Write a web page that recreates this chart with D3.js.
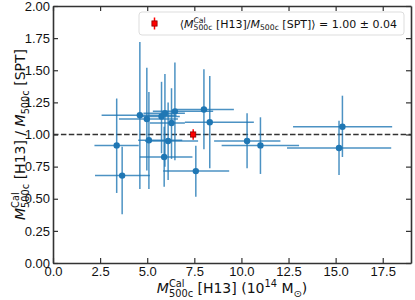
<!DOCTYPE html>
<html>
<head>
<meta charset="utf-8">
<script src="https://cdn.jsdelivr.net/npm/d3@7"></script>
<style>
  body { margin: 0; background: #fff; }
  svg { font-family: "DejaVu Sans", sans-serif; }
  svg text { white-space: pre; }
  .axis path, .axis line { stroke: #333; }
  .axis text { fill: #111; font-size: 13px; }
</style>
</head>
<body>
<div id="chart"></div>
<script>
// values
const mH13   = [4.61, 4.98, 5.76, 5.94, 6.47, 6.29, 8.01, 8.32, 5.09, 6.11, 3.38, 5.90, 3.67, 7.58, 10.30, 11.01, 15.36, 15.18];
const ratio  = [1.15, 1.12, 1.14, 1.165, 1.18, 1.09, 1.195, 1.095, 0.955, 0.95, 0.915, 0.825, 0.68, 0.715, 0.95, 0.915, 1.06, 0.895];
const mLo    = [2.58, 3.50, 4.70, 4.80, 5.30, 5.14, 6.50, 7.00, 4.52, 4.88, 2.20, 4.61, 2.23, 5.85, 8.55, 8.95, 12.74, 12.42];
const mHi    = [6.56, 6.63, 6.73, 7.00, 8.50, 7.00, 9.60, 10.66, 6.86, 7.70, 4.55, 7.40, 5.14, 9.35, 12.07, 13.06, 18.00, 17.95];
const rLo    = [0.576, 0.72, 0.854, 0.75, 0.80, 0.81, 0.885, 0.737, 0.576, 0.646, 0.545, 0.594, 0.379, 0.516, 0.737, 0.693, 0.825, 0.685];
const rHi    = [1.72, 1.52, 1.41, 1.47, 1.56, 1.36, 1.507, 1.455, 1.33, 1.25, 1.28, 1.06, 0.905, 0.913, 1.165, 1.134, 1.302, 1.107];

const meanX = 7.44;
const meanRatio = 1.00;
const meanErr = 0.04;

const xTicks = [0, 2.5, 5, 7.5, 10, 12.5, 15, 17.5];
const yTicks = [0, 0.25, 0.5, 0.75, 1, 1.25, 1.5, 1.75, 2];

const points = mH13.map((m, i) => ({ x: m, y: ratio[i], x0: mLo[i], x1: mHi[i], y0: rLo[i], y1: rHi[i] }));

const margin = { top: 6, right: 4, bottom: 37, left: 53 };
const width = 415 - margin.left - margin.right;
const height = 300 - margin.top - margin.bottom;

const svg = d3.select('#chart').append('svg')
  .attr('width', 415)
  .attr('height', 300);

const g = svg.append('g')
  .attr('transform', 'translate(' + margin.left + ',' + margin.top + ')');

const x = d3.scaleLinear().domain([0, 19]).range([0, width]);
const y = d3.scaleLinear().domain([0, 2]).range([height, 0]);

const blue = '#1f77b4';

// math-ish label: parts laid out one after another, measured in the page
function mathText(parent, parts, size) {
  const grp = parent.append('g');
  let cx = 0;
  parts.forEach(p => {
    if (p.t !== undefined) {
      const t = grp.append('text').attr('x', cx).attr('y', 0)
        .attr('font-size', size)
        .attr('font-style', p.italic ? 'italic' : null)
        .text(p.t);
      cx += t.node().getComputedTextLength();
    } else {
      let w = 0;
      if (p.sup) {
        const s = grp.append('text').attr('x', cx).attr('y', -size * 0.42)
          .attr('font-size', size * 0.7).text(p.sup);
        w = Math.max(w, s.node().getComputedTextLength());
      }
      if (p.sub) {
        const s = grp.append('text').attr('x', cx).attr('y', size * 0.26)
          .attr('font-size', size * 0.7).text(p.sub);
        w = Math.max(w, s.node().getComputedTextLength());
      }
      cx += w;
    }
  });
  grp.selectAll('text').attr('fill', '#111');
  return { grp: grp, width: cx };
}

// dashed unity line
g.append('line')
  .attr('x1', 0).attr('x2', width)
  .attr('y1', y(1)).attr('y2', y(1))
  .attr('stroke', '#333')
  .attr('stroke-width', 1.5)
  .attr('stroke-dasharray', '5.5,2.4');

// error bars
const eb = g.append('g').attr('stroke', blue).attr('stroke-width', 1.5).attr('stroke-opacity', 0.8);

eb.selectAll('line.xe')
  .data(points)
  .enter()
  .append('line')
  .attr('class', 'xe')
  .attr('x1', d => x(d.x0)).attr('x2', d => x(d.x1))
  .attr('y1', d => y(d.y)).attr('y2', d => y(d.y));

eb.selectAll('line.ye')
  .data(points)
  .enter()
  .append('line')
  .attr('class', 'ye')
  .attr('x1', d => x(d.x)).attr('x2', d => x(d.x))
  .attr('y1', d => y(d.y0)).attr('y2', d => y(d.y1));

g.selectAll('circle.pt')
  .data(points)
  .enter()
  .append('circle')
  .attr('class', 'pt')
  .attr('cx', d => x(d.x))
  .attr('cy', d => y(d.y))
  .attr('r', 3.2)
  .attr('fill', blue);

// mean ratio in red
g.append('line')
  .attr('x1', x(meanX)).attr('x2', x(meanX))
  .attr('y1', y(meanRatio - meanErr)).attr('y2', y(meanRatio + meanErr))
  .attr('stroke', 'red').attr('stroke-width', 1.5);
g.append('rect')
  .attr('x', x(meanX) - 2.6).attr('y', y(meanRatio) - 2.6)
  .attr('width', 5.2).attr('height', 5.2)
  .attr('fill', 'red').attr('stroke', '#8b0000').attr('stroke-width', 0.8);

// axes, ticks pointing in
const fmtX = d3.format('.1f');
const fmtY = d3.format('.2f');

g.append('g')
  .attr('class', 'axis')
  .attr('transform', 'translate(0,' + height + ')')
  .call(d3.axisBottom(x).tickValues(xTicks).tickFormat(fmtX).tickSizeInner(-5).tickSizeOuter(0).tickPadding(4));

g.append('g')
  .attr('class', 'axis')
  .call(d3.axisLeft(y).tickValues(yTicks).tickFormat(fmtY).tickSizeInner(-5).tickSizeOuter(0).tickPadding(3));

g.append('g')
  .attr('class', 'axis')
  .call(d3.axisTop(x).tickValues(xTicks).tickFormat('').tickSizeInner(-5).tickSizeOuter(0));

g.append('g')
  .attr('class', 'axis')
  .attr('transform', 'translate(' + width + ',0)')
  .call(d3.axisRight(y).tickValues(yTicks).tickFormat('').tickSizeInner(-5).tickSizeOuter(0));

g.selectAll('.axis path').attr('stroke-width', 1.6);
g.selectAll('.axis line').attr('stroke-width', 1.2);

// legend
const leg = g.append('g').attr('transform', 'translate(86,6)');
leg.append('rect')
  .attr('width', 265).attr('height', 23).attr('rx', 3)
  .attr('fill', '#fff').attr('fill-opacity', 0.8)
  .attr('stroke', '#ddd').attr('stroke-width', 1);
leg.append('line')
  .attr('x1', 15.5).attr('x2', 15.5).attr('y1', 5.5).attr('y2', 17.5)
  .attr('stroke', 'red').attr('stroke-width', 1.5);
leg.append('rect')
  .attr('x', 12.9).attr('y', 8.9).attr('width', 5.2).attr('height', 5.2)
  .attr('fill', 'red').attr('stroke', '#8b0000').attr('stroke-width', 0.8);

const legText = mathText(leg, [
  { t: '\u27e8' }, { t: 'M', italic: true }, { sup: 'Cal', sub: '500c' },
  { t: ' [H13]/' }, { t: 'M', italic: true }, { sub: '500c' },
  { t: ' [SPT]\u27e9 = 1.00 \u00b1 0.04' }
], 11);
legText.grp.attr('transform', 'translate(' + (258 - legText.width) + ',15.5)');

// x label
const xl = mathText(svg, [
  { t: 'M', italic: true }, { sup: 'Cal', sub: '500c' },
  { t: ' [H13] (10' }, { sup: '14' }, { t: ' M' }, { sub: '\u2299' }, { t: ')' }
], 14);
xl.grp.attr('transform', 'translate(' + (margin.left + width / 2 - xl.width / 2) + ',293)');

// y label
const ylG = svg.append('g').attr('transform', 'translate(25,' + (margin.top + height / 2) + ') rotate(-90)');
const yl = mathText(ylG, [
  { t: 'M', italic: true }, { sup: 'Cal', sub: '500c' },
  { t: ' [H13] / ' }, { t: 'M', italic: true }, { sub: '500c' },
  { t: ' [SPT]' }
], 14);
yl.grp.attr('transform', 'translate(' + (-yl.width / 2) + ',0)');
</script>
</body>
</html>
